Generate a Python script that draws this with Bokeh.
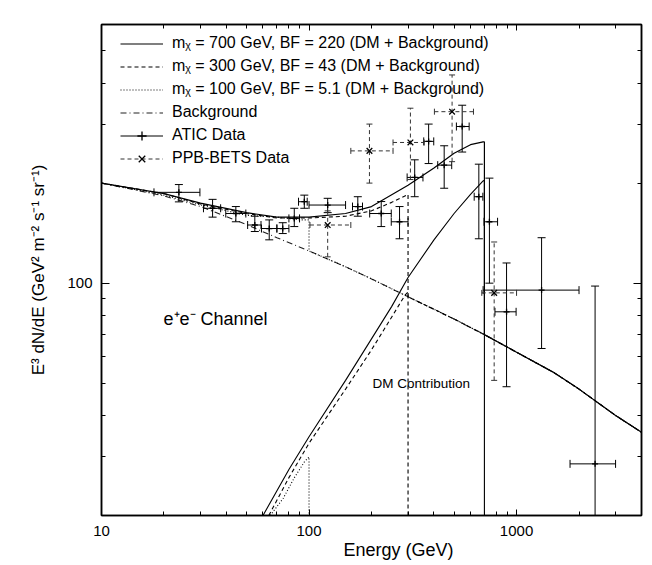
import numpy as np
from bokeh.plotting import figure
from bokeh.models import (LogAxis, FixedTicker, Legend, LegendItem, Label, Range1d, Title,
                          ColumnDataSource, NumeralTickFormatter)
from bokeh.embed import file_html
from bokeh.resources import INLINE

FONT = "Liberation Sans"

# ---- axes ticks ----
x_major_ticks = [10, 100, 1000]
x_minor_ticks = [20, 30, 40, 50, 60, 70, 80, 90, 200, 300, 400, 500, 600, 700, 800, 900, 2000, 3000, 4000]
y_major_ticks = [100]
y_minor_ticks = [20, 30, 40, 50, 60, 70, 80, 90, 200, 300, 400, 500, 600]

# ---- model curves (E in GeV, E^3 dN/dE) ----
bg_E = [10, 20, 30, 50, 70, 100, 150, 200, 300, 500, 700, 1000, 1500, 2000, 3000, 4000]
bg_F = [200, 183, 170, 150, 137, 125, 112, 103, 91, 78, 70, 62, 54, 48, 40, 35.6]

tot700_E = [10, 20, 30, 50, 70, 100, 150, 200, 300, 400, 500, 600, 690, 700, 700, 1000, 1500, 2000, 3000, 4000]
tot700_F = [200, 186, 174, 163, 158, 158, 162, 170, 197, 222, 246, 261, 266, 266, 70, 62, 54, 48, 40, 35.6]
dm700_E = [60, 80, 100, 150, 200, 250, 300, 400, 500, 600, 690, 700, 700]
dm700_F = [20, 27.5, 34.5, 51, 68, 85, 104, 135, 162, 185, 203, 204, 10]

tot300_E = [10, 20, 30, 50, 70, 100, 150, 200, 250, 300, 300, 500, 700, 1000, 1500, 2000, 3000, 4000]
tot300_F = [200, 186, 173, 162, 157, 157, 159, 165, 175, 185, 91, 78, 70, 62, 54, 48, 40, 35.6]
dm300_E = [64, 80, 100, 150, 200, 250, 290, 300, 300]
dm300_F = [20, 26, 33, 48, 63, 79, 92, 94, 10]

tot100_E = [10, 20, 30, 50, 70, 90, 100, 100, 150, 200, 300, 500, 700, 1000, 1500, 2000, 3000, 4000]
tot100_F = [200, 184, 172, 160, 158, 155, 155, 125, 112, 103, 91, 78, 70, 62, 54, 48, 40, 35.6]
dm100_E = [65, 75, 85, 95, 100, 100]
dm100_F = [20, 22.5, 26, 29, 30, 10]

# ---- ATIC data ----
atic_E = [23.6, 34.3, 44.4, 54.8, 64.3, 74.7, 84.9, 94.9, 123, 171.8, 222.8, 273, 323, 377, 448, 547, 658, 740, 895, 1320, 2390]
atic_Elo = [17.9, 31, 39.7, 50.6, 59, 70, 80, 89, 100, 162, 196, 249, 297, 357, 417, 513, 625, 697, 787, 690, 1810]
atic_Ehi = [29.8, 37.5, 49.6, 58.7, 70, 80, 90, 98, 150, 181, 249, 300, 354, 399, 487, 591, 688, 810, 995, 2000, 3000]
atic_F = [187.6, 168, 162, 149.6, 146, 146, 156.6, 175.8, 171.8, 170, 162, 153, 208, 267, 226.5, 296, 182, 153, 82, 95.3, 28.6]
atic_Flo = [175.6, 158, 153, 143, 135, 141, 148, 168, 163, 159, 148, 136, 182, 229, 193, 248, 136, 100, 48.8, 63.6, 15]
atic_Fhi = [198, 178.7, 170, 159, 155, 152, 168, 184, 180, 182, 176, 170, 235, 301, 259, 343, 228, 207, 115, 137, 98]

# ---- PPB-BETS data ----
ppb_E = [123, 195.5, 308, 489, 780]
ppb_Elo = [101, 159, 254, 402, 680]
ppb_Ehi = [159, 254, 359, 620, 1000]
ppb_F = [149.6, 250, 265, 328, 93.5]
ppb_Flo = [120, 200, 205, 232, 51]
ppb_Fhi = [165, 301, 336, 423, 133]

p = figure(x_axis_type="log", y_axis_type="log",
           x_range=Range1d(10, 4000), y_range=Range1d(20, 600),
           frame_width=540, frame_height=491,
           min_border_left=101, min_border_right=11, min_border_top=24, min_border_bottom=50,
           output_backend="svg", toolbar_location=None,
           background_fill_color="white", border_fill_color="white")
p.xgrid.grid_line_color = None
p.ygrid.grid_line_color = None
p.outline_line_color = "black"
p.outline_line_width = 1.5

xticker = FixedTicker(ticks=x_major_ticks, minor_ticks=x_minor_ticks)
yticker = FixedTicker(ticks=y_major_ticks, minor_ticks=y_minor_ticks)


def style_axis(ax, ticker, major_len):
    ax.ticker = ticker
    ax.major_tick_in = major_len
    ax.major_tick_out = 0
    ax.minor_tick_in = 4
    ax.minor_tick_out = 0
    ax.axis_line_color = "black"
    ax.axis_line_width = 1.5
    ax.major_tick_line_color = "black"
    ax.minor_tick_line_color = "black"
    ax.major_tick_line_width = 1
    ax.minor_tick_line_width = 1
    ax.major_label_text_font = FONT
    ax.major_label_text_font_size = "15px"
    ax.major_label_text_color = "black"
    ax.formatter = NumeralTickFormatter(format="0")


style_axis(p.xaxis[0], xticker, 6)
style_axis(p.yaxis[0], yticker, 8)
p.xaxis[0].major_label_standoff = 10
p.yaxis[0].major_label_standoff = 9
p.yaxis[0].axis_label = "E³ dN/dE (GeV² m⁻² s⁻¹ sr⁻¹)"
p.yaxis[0].axis_label_text_font = FONT
p.yaxis[0].axis_label_text_font_size = "17px"
p.yaxis[0].axis_label_text_font_style = "normal"
p.yaxis[0].axis_label_text_color = "black"
p.yaxis[0].axis_label_standoff = 16

top_ax = LogAxis()
style_axis(top_ax, xticker, 6)
top_ax.major_label_text_font_size = "0px"
top_ax.major_label_text_color = None
top_ax.major_label_standoff = 0
p.add_layout(top_ax, "above")
right_ax = LogAxis()
style_axis(right_ax, yticker, 8)
right_ax.major_label_text_font_size = "0px"
right_ax.major_label_text_color = None
right_ax.major_label_standoff = 0
p.add_layout(right_ax, "right")

# x-axis title (placed as a bottom title so it can sit off-centre like the reference)
p.add_layout(Title(text="Energy (GeV)", align="left", offset=242, standoff=0,
                   text_font=FONT, text_font_size="18px", text_font_style="normal",
                   text_color="black", vertical_align="middle"), "below")

# ---- curves ----
r_bg = p.line(bg_E, bg_F, line_color="#222222", line_width=1.1, line_dash="6 3 1 3")
r700 = p.line(tot700_E, tot700_F, line_color="black", line_width=1.2)
p.line(dm700_E, dm700_F, line_color="black", line_width=1.1)
r300 = p.line(tot300_E, tot300_F, line_color="black", line_width=1.1, line_dash="4 3")
p.line(dm300_E, dm300_F, line_color="black", line_width=1.1, line_dash="4 3")
r100 = p.line(tot100_E, tot100_F, line_color="black", line_width=1.1, line_dash="1 2")
p.line(dm100_E, dm100_F, line_color="black", line_width=1.1, line_dash="1 2")


def add_errbars(E, Elo, Ehi, F, Flo, Fhi, color, dash, cap, marker, msize):
    src = ColumnDataSource(dict(E=E, Elo=Elo, Ehi=Ehi, F=F, Flo=Flo, Fhi=Fhi))
    p.segment(x0="E", y0="Flo", x1="E", y1="Fhi", source=src,
              line_color=color, line_width=1, line_dash=dash)
    h = p.segment(x0="Elo", y0="F", x1="Ehi", y1="F", source=src,
                  line_color=color, line_width=1, line_dash=dash)
    for xc, yc, ang in (("E", "Flo", 0), ("E", "Fhi", 0),
                        ("Elo", "F", np.pi / 2), ("Ehi", "F", np.pi / 2)):
        p.scatter(x=xc, y=yc, source=src, marker="dash", angle=ang, size=cap,
                  line_color=color, line_width=1)
    m = p.scatter(x="E", y="F", source=src, marker=marker, size=msize,
                  line_color="black", fill_color=None, line_width=1.3)
    return h, m


atic_h, atic_m = add_errbars(atic_E, atic_Elo, atic_Ehi, atic_F, atic_Flo, atic_Fhi,
                             "black", "solid", 8, "cross", 6)
ppb_h, ppb_m = add_errbars(ppb_E, ppb_Elo, ppb_Ehi, ppb_F, ppb_Flo, ppb_Fhi,
                           "#333333", "4 3", 6, "x", 8)

legend = Legend(items=[
    LegendItem(label="mᵪ = 700 GeV, BF = 220 (DM + Background)", renderers=[r700]),
    LegendItem(label="mᵪ = 300 GeV, BF = 43 (DM + Background)", renderers=[r300]),
    LegendItem(label="mᵪ = 100 GeV, BF = 5.1 (DM + Background)", renderers=[r100]),
    LegendItem(label="Background", renderers=[r_bg]),
    LegendItem(label="ATIC Data", renderers=[atic_h, atic_m]),
    LegendItem(label="PPB-BETS Data", renderers=[ppb_h, ppb_m]),
], location=(19, 345.5), padding=0, margin=0, spacing=0,
    border_line_color=None, background_fill_alpha=0,
    glyph_width=43, glyph_height=23, label_height=23, label_standoff=9,
    label_text_font=FONT, label_text_font_size="16px", label_text_color="black")
p.add_layout(legend)

p.add_layout(Label(x=62, y=197, x_units="screen", y_units="screen", text="e⁺e⁻ Channel",
                   text_font=FONT, text_font_size="18px", text_baseline="middle",
                   text_color="black"))
p.add_layout(Label(x=271, y=132, x_units="screen", y_units="screen", text="DM Contribution",
                   text_font=FONT, text_font_size="13.5px", text_baseline="middle",
                   text_color="black"))

open("out.html", "w").write(file_html(p, INLINE))
